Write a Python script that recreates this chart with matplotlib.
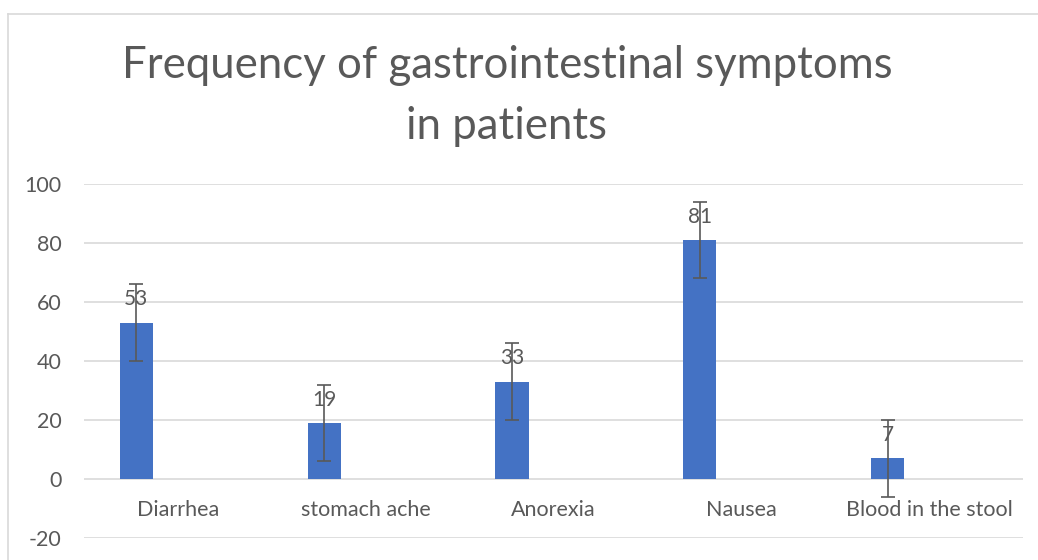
import matplotlib.pyplot as plt
from matplotlib.lines import Line2D
from matplotlib.transforms import blended_transform_factory

categories = ["Diarrhea", "stomach ache", "Anorexia", "Nausea", "Blood in the stool"]
values = [53, 19, 33, 81, 7]
errors = [13, 13, 13, 13, 13]
y_ticks = [-20, 0, 20, 40, 60, 80, 100]

text_color = "#595959"
bar_color = "#4472C4"
grid_color = "#D9D9D9"

plt.rcParams["font.family"] = ["Lato", "DejaVu Sans"]
plt.rcParams["axes.unicode_minus"] = False

figure = plt.figure(figsize=(10.38, 5.6), dpi=100)
axis = figure.add_axes([84 / 1038, 1 - 538 / 560, 939 / 1038, 354 / 560])

positions = [index - 0.221 for index in range(len(categories))]

axis.bar(positions, values, width=0.176, color=bar_color, zorder=2)
axis.errorbar(
    positions,
    values,
    yerr=errors,
    fmt="none",
    ecolor=text_color,
    elinewidth=1.2,
    capsize=5,
    capthick=1.2,
    zorder=3,
)

for position, value in zip(positions, values):
    axis.annotate(
        str(value),
        (position, value),
        xytext=(0, 12.5),
        textcoords="offset points",
        ha="center",
        va="baseline",
        fontsize=15,
        color=text_color,
        zorder=4,
    )

label_transform = blended_transform_factory(axis.transData, axis.transData)
for index, name in enumerate(categories):
    axis.text(
        index,
        -10.5,
        name,
        ha="center",
        va="center",
        fontsize=15.5,
        color=text_color,
        transform=label_transform,
    )

axis.set_xlim(-0.5, len(categories) - 0.5)
axis.set_ylim(y_ticks[0], y_ticks[-1])
axis.set_yticks(y_ticks)
axis.set_xticks([])
axis.tick_params(axis="y", length=0, pad=16, labelsize=15.5, labelcolor=text_color)
for spine in axis.spines.values():
    spine.set_visible(False)
axis.grid(axis="y", color=grid_color, linewidth=1.2, zorder=0)

figure.text(
    507 / 1038,
    1 - 96 / 560,
    "Frequency of gastrointestinal symptoms\nin patients",
    ha="center",
    va="center",
    fontsize=31.5,
    color=text_color,
    linespacing=1.6,
)

figure.add_artist(Line2D([8 / 1038, 8 / 1038], [0, 1 - 14 / 560], color=grid_color, linewidth=1.2))
figure.add_artist(Line2D([8 / 1038, 1], [1 - 14 / 560, 1 - 14 / 560], color=grid_color, linewidth=1.2))

figure.savefig("out.png", dpi=100)
